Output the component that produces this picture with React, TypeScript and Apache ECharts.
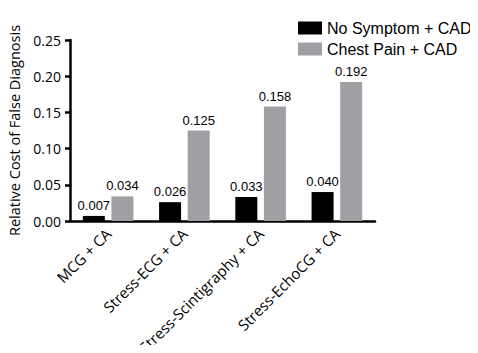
import React, { useEffect, useRef } from "react";
import * as echarts from "echarts";

const categories = ["MCG + CA", "Stress-ECG + CA", "Stress-Scintigraphy + CA", "Stress-EchoCG + CA"];
const noSymptom = [0.007, 0.026, 0.033, 0.04];
const chestPain = [0.034, 0.125, 0.158, 0.192];
const yTicks = { min: 0, max: 0.25, interval: 0.05 };

export default function App() {
  const ref = useRef<HTMLDivElement>(null);
  useEffect(() => {
    const chart = echarts.init(ref.current!, null, { renderer: "svg" });
    const labelStyle = {
      show: true,
      position: "top",
      distance: 4,
      color: "#000",
      fontFamily: "Liberation Sans",
      fontSize: 13,
      formatter: (p: any) => p.value.toFixed(3),
    };
    chart.setOption({
      animation: false,
      backgroundColor: "#fff",
      grid: { left: 70, right: 103, top: 40, bottom: 132, outerBoundsMode: "none", containLabel: false },
      legend: {
        orient: "vertical",
        left: 293,
        top: 15,
        itemWidth: 24,
        itemHeight: 13,
        itemGap: 5,
        icon: "rect",
        textStyle: { fontFamily: "Liberation Sans", fontSize: 16, color: "#000", lineHeight: 13 },
        data: ["No Symptom + CAD", "Chest Pain + CAD"],
      },
      xAxis: {
        type: "category",
        data: categories,
        axisLine: { lineStyle: { color: "#000", width: 2.5 } },
        axisTick: { alignWithLabel: true, length: 5, lineStyle: { width: 2.5, color: "#000" } },
        axisLabel: {
          rotate: 45,
          margin: 10,
          color: "#000",
          fontFamily: "Open Sans",
          fontSize: 15,
          interval: 0,
        },
      },
      yAxis: {
        type: "value",
        min: yTicks.min,
        max: yTicks.max,
        interval: yTicks.interval,
        name: "Relative Cost of False Diagnosis",
        nameLocation: "middle",
        nameGap: 41,
        nameTextStyle: { fontFamily: "Open Sans", fontSize: 14.5, color: "#000" },
        splitLine: { show: false },
        axisLine: { show: true, lineStyle: { color: "#000", width: 2.5 } },
        axisTick: { show: true, length: 5, lineStyle: { width: 2.5, color: "#000" } },
        axisLabel: {
          margin: 9,
          color: "#000",
          fontFamily: "Open Sans",
          fontSize: 14,
          formatter: (v: number) => v.toFixed(2),
        },
      },
      series: [
        {
          name: "No Symptom + CAD",
          type: "bar",
          data: noSymptom,
          barWidth: 22,
          barGap: "30%",
          itemStyle: { color: "#000" },
          label: labelStyle,
        },
        {
          name: "Chest Pain + CAD",
          type: "bar",
          data: chestPain,
          barWidth: 22,
          itemStyle: { color: "#a0a0a4" },
          label: labelStyle,
        },
      ],
    });
    return () => chart.dispose();
  }, []);
  return <div ref={ref} style={{ width: 478, height: 353, margin: -8 }} />;
}
